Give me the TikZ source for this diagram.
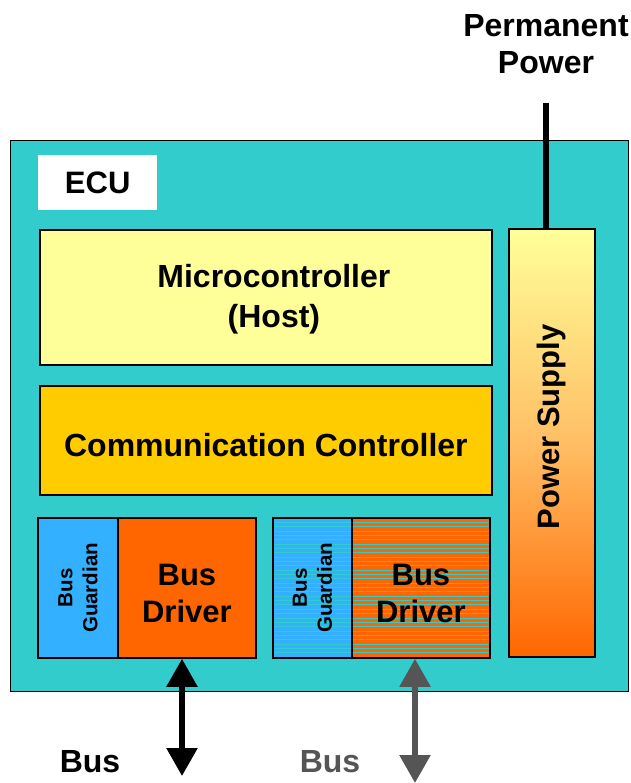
\documentclass[tikz,border=0pt]{standalone}
\usepackage{fontspec}
\setmainfont{Liberation Sans}
\usetikzlibrary{arrows.meta,calc}
\definecolor{ecuteal}{HTML}{33CCCC}
\definecolor{hostyellow}{HTML}{FFFF99}
\definecolor{ccyellow}{HTML}{FFCC00}
\definecolor{guardblue}{HTML}{33B0FF}
\definecolor{drvorange}{HTML}{FF6600}
\definecolor{busgray}{HTML}{555555}
\tikzset{
  blk/.style={draw=black, line width=1.8pt, anchor=north west, inner sep=0pt, align=center, font=\bfseries},
  stripes/.style={path picture={\foreach \k in {1,...,32}{\draw[ecuteal, line width=0.9pt] ([yshift=-\k*4.35pt]path picture bounding box.north west) -- ([yshift=-\k*4.35pt]path picture bounding box.north east);}}},
  biarrow/.style={line width=5.5pt, {Triangle[length=28pt,width=30pt]}-{Triangle[length=28pt,width=30pt]}},
  lbl/.style={font=\bfseries\fontsize{32}{37}\selectfont, align=center, inner sep=0pt},
  drvtxt/.style={font=\bfseries\fontsize{31}{37}\selectfont, align=center, inner sep=0pt},
  grdtxt/.style={font=\bfseries\fontsize{20.5}{25}\selectfont, rotate=90, align=center, inner sep=0pt}
}
\begin{document}
\begin{tikzpicture}[x=1pt,y=-1pt]
\useasboundingbox (0,0) rectangle (630,783);
% ECU frame
\node[draw=black, line width=1.3pt, fill=ecuteal, anchor=north west, minimum width=618, minimum height=551, inner sep=0pt] (ecu) at (10,140) {};
\node[fill=white, anchor=north west, minimum width=119, minimum height=55, inner sep=0pt, font=\bfseries\fontsize{31}{36}\selectfont] (ecul) at (38,155) {ECU};
% Host
\node[blk, fill=hostyellow, minimum width=452, minimum height=135] (host) at (39,229) {};
\node[font=\bfseries\fontsize{32}{40}\selectfont, align=center, inner sep=0pt] (hostt) at ([xshift=8pt,yshift=-2pt]host.center) {Microcontroller\\(Host)};
% Communication controller
\node[blk, fill=ccyellow, minimum width=452, minimum height=109] (cc) at (39,385) {};
\node[font=\bfseries\fontsize{32}{37}\selectfont, inner sep=0pt] (cct) at ([yshift=-5pt]cc.center) {Communication Controller};
% Bus guardian / driver 1
\node[blk, fill=guardblue, minimum width=80, minimum height=140] (bg1) at (37,517) {};
\node[grdtxt] (bg1t) at (bg1.center) {Bus\\Guardian};
\node[blk, fill=drvorange, minimum width=138, minimum height=140] (bd1) at (117,517) {};
\node[drvtxt] (bd1t) at ([yshift=-6pt]bd1.center) {Bus\\Driver};
% Bus guardian / driver 2 (striped)
\node[blk, fill=guardblue, stripes, minimum width=79, minimum height=140] (bg2) at (272,517) {};
\node[grdtxt] (bg2t) at (bg2.center) {Bus\\Guardian};
\node[blk, fill=drvorange, stripes, minimum width=138, minimum height=140] (bd2) at (351,517) {};
\node[drvtxt] (bd2t) at ([yshift=-6pt]bd2.center) {Bus\\Driver};
% Power supply
\node[blk, top color=hostyellow, bottom color=drvorange, middle color={rgb,255:red,255;green,190;blue,100}, minimum width=86, minimum height=428] (ps) at (508,228) {};
\node[font=\bfseries\fontsize{31}{36}\selectfont, rotate=90, inner sep=0pt] (pst) at ([yshift=16pt]ps.center) {Power Supply};
% Permanent power
\node[lbl] (pp) at (546,44) {Permanent\\Power};
\coordinate (ppend) at (546,103);
\draw[line width=6pt] (ppend) -- (ps.north -| ppend);
% Buses
\coordinate (b1) at (182,776);
\coordinate (b2) at (415,783);
\draw[biarrow, black] (bd1.south -| b1) -- (b1);
\draw[biarrow, busgray] (bd2.south -| b2) -- (b2);
\node[lbl, black] (bus1) at (90,762) {Bus};
\node[lbl, busgray] (bus2) at (330,762) {Bus};
\end{tikzpicture}
\end{document}
